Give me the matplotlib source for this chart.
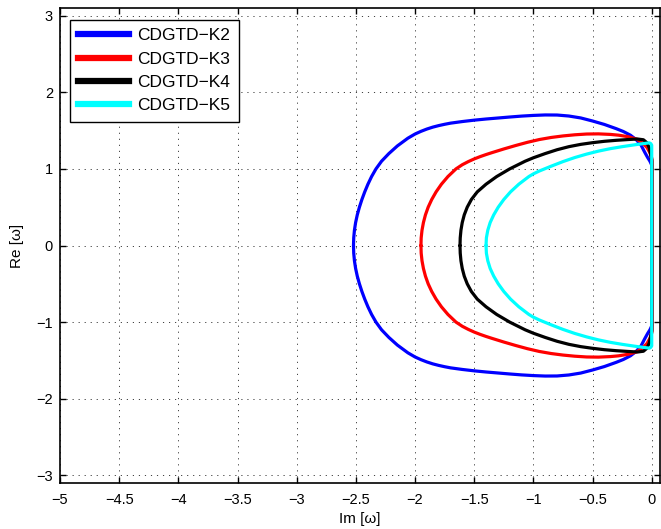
import numpy as np
import matplotlib
matplotlib.use("Agg")
import matplotlib.pyplot as plt
from matplotlib.lines import Line2D

plt.rcParams['font.family'] = ['Liberation Sans', 'DejaVu Sans']

# Upper half (Re >= 0) of each stability boundary, traced from the leftmost
# point on the real axis round to the imaginary axis; the lower half mirrors it.
labels = ["CDGTD\u2212K2", "CDGTD\u2212K3", "CDGTD\u2212K4", "CDGTD\u2212K5"]
colors = ["#0000ff", "#ff0000", "#000000", "#00ffff"]

k2_im = [-2.52, -2.518, -2.512, -2.502, -2.488, -2.47, -2.449, -2.425, -2.398,
         -2.367, -2.33, -2.283, -2.221, -2.149, -2.061, -2.00, -1.95, -1.90,
         -1.85, -1.80, -1.75, -1.70, -1.60, -1.50, -1.40, -1.30, -1.20, -1.10,
         -1.00, -0.90, -0.80, -0.70, -0.60, -0.50, -0.40, -0.30, -0.24, -0.18,
         -0.13, -0.09, -0.06, -0.035, -0.015, 0.0]
k2_re = [0.00, 0.10, 0.20, 0.30, 0.40, 0.50, 0.60, 0.70, 0.80,
         0.90, 1.00, 1.10, 1.20, 1.30, 1.40, 1.455, 1.49, 1.52,
         1.545, 1.565, 1.582, 1.597, 1.618, 1.636, 1.651, 1.664, 1.677, 1.689,
         1.698, 1.704, 1.703, 1.69, 1.665, 1.625, 1.58, 1.525, 1.488, 1.44,
         1.38, 1.31, 1.22, 1.15, 1.10, 1.05]

k3_im = [-1.95, -1.948, -1.941, -1.929, -1.912, -1.889, -1.859, -1.822, -1.777,
         -1.722, -1.654, -1.60, -1.55, -1.50, -1.45, -1.40, -1.35, -1.25,
         -1.15, -1.05, -0.95, -0.85, -0.75, -0.65, -0.55, -0.45, -0.35, -0.28,
         -0.20, -0.13, -0.08, -0.04, -0.015, 0.005, 0.005]
k3_re = [0.00, 0.10, 0.20, 0.30, 0.40, 0.50, 0.60, 0.70, 0.80,
         0.90, 1.00, 1.055, 1.095, 1.13, 1.16, 1.187, 1.212, 1.26,
         1.305, 1.347, 1.383, 1.41, 1.43, 1.445, 1.455, 1.457, 1.45, 1.44,
         1.42, 1.39, 1.34, 1.28, 1.21, 1.12, 1.05]

k4_im = [-1.62, -1.618, -1.612, -1.601, -1.584, -1.559, -1.524, -1.474, -1.40,
         -1.31, -1.20, -1.07, -1.00, -0.90, -0.80, -0.70, -0.60, -0.50, -0.40,
         -0.30, -0.20, -0.12, -0.07, -0.04, -0.02, -0.008, 0.0, 0.0]
k4_re = [0.00, 0.10, 0.20, 0.30, 0.40, 0.50, 0.60, 0.70, 0.80,
         0.90, 1.00, 1.10, 1.145, 1.20, 1.25, 1.29, 1.32, 1.342, 1.36,
         1.373, 1.383, 1.39, 1.38, 1.34, 1.27, 1.18, 1.10, 1.05]

k5_im = [-1.40, -1.397, -1.385, -1.365, -1.335, -1.297, -1.25, -1.193, -1.123,
         -1.038, -1.00, -0.95, -0.85, -0.75, -0.65, -0.55, -0.45, -0.35, -0.25,
         -0.15, -0.08, -0.04, -0.02, -0.008, 0.0, 0.0]
k5_re = [0.00, 0.10, 0.20, 0.30, 0.40, 0.50, 0.60, 0.70, 0.80,
         0.90, 0.935, 0.972, 1.035, 1.095, 1.148, 1.193, 1.232, 1.264, 1.29,
         1.313, 1.328, 1.336, 1.34, 1.33, 1.31, 0.00]

curves = [(k2_im, k2_re), (k3_im, k3_re), (k4_im, k4_re), (k5_im, k5_re)]

x_ticks = [-5, -4.5, -4, -3.5, -3, -2.5, -2, -1.5, -1, -0.5, 0]
y_ticks = [-3, -2, -1, 0, 1, 2, 3]

W, H = 661, 529
fig = plt.figure(figsize=(W / 100, H / 100), dpi=100)
ax = fig.add_axes([60 / W, 1 - 483 / H, 600 / W, 475 / H])

for (im, re), c in zip(curves, colors):
    im = np.asarray(im, float)
    re = np.asarray(re, float)
    xs = np.concatenate([im, im[::-1]])
    ys = np.concatenate([re, -re[::-1]])
    ax.plot(xs, ys, color=c, lw=2.3, solid_joinstyle='round',
            solid_capstyle='round', zorder=3)

ax.set_xlim(-5, 0.07)
ax.set_ylim(-3.1, 3.1)
ax.set_xticks(x_ticks)
ax.set_xticklabels([f"{v:g}".replace("-", "\u2212") for v in x_ticks])
ax.set_yticks(y_ticks)
ax.set_yticklabels([f"{v:g}".replace("-", "\u2212") for v in y_ticks])

ax.grid(True, color='0.25', lw=0.7, linestyle=(0, (1.2, 5)))
ax.set_axisbelow(True)
ax.tick_params(direction='in', length=4, width=1.0, top=True, right=True,
               labelsize=10.5, pad=5)
ax.tick_params(axis='x', pad=7)
for s in ax.spines.values():
    s.set_linewidth(1.2)

ax.set_xlabel("Im [\u03c9]", fontsize=11, labelpad=4)
ax.set_ylabel("Re [\u03c9]", fontsize=11, labelpad=9)

handles = [Line2D([0], [0], color=c, lw=4.5) for c in colors]
leg = ax.legend(handles, labels, loc='upper left', fontsize=12.5,
                bbox_to_anchor=(10 / 600, 1 - 12 / 475), borderaxespad=0,
                fancybox=False, framealpha=1, edgecolor='k',
                handlelength=2.9, handletextpad=0.5, labelspacing=0.47,
                borderpad=0.48)
leg.get_frame().set_linewidth(1.0)

fig.savefig("out.png", dpi=100)
